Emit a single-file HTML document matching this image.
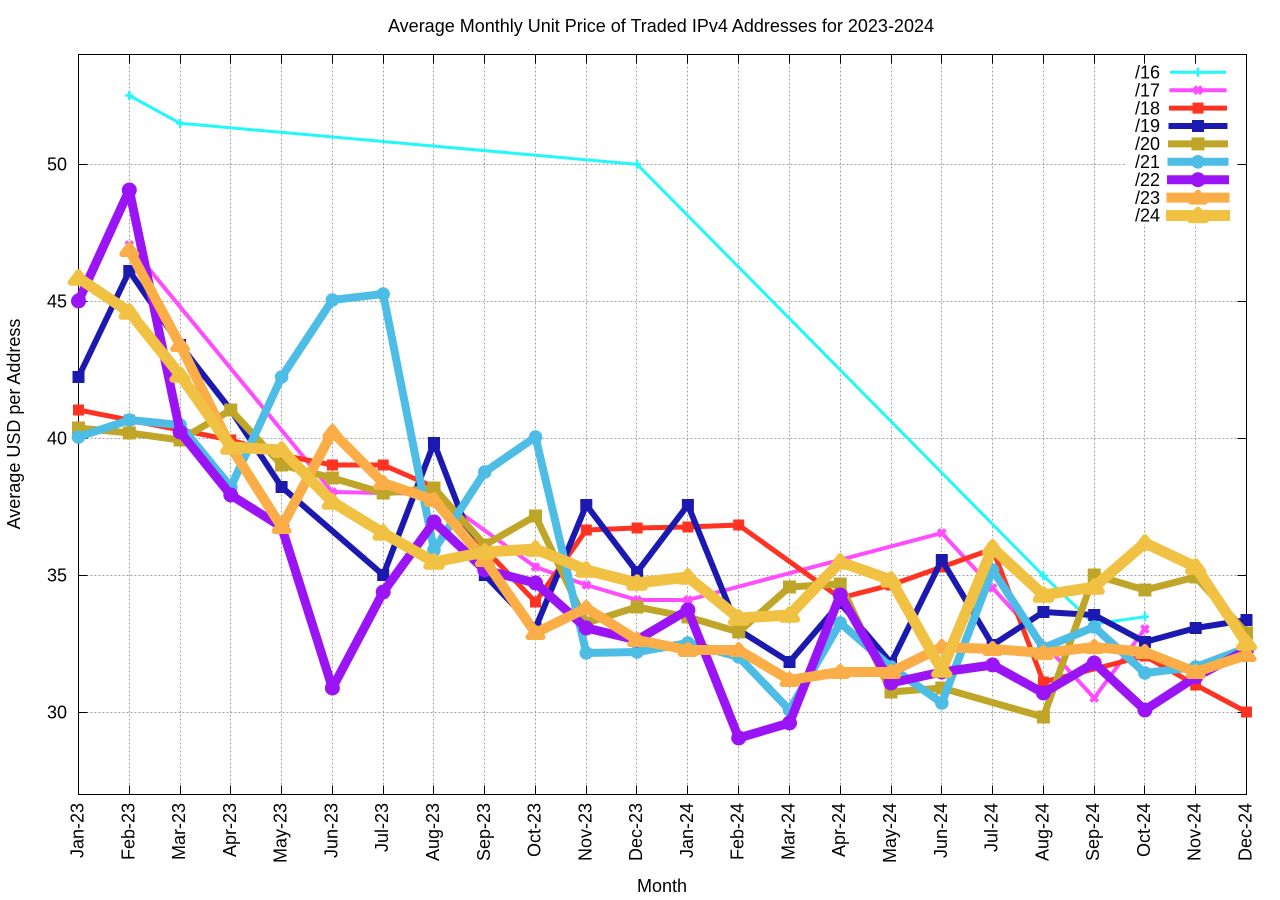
<!DOCTYPE html>
<html><head><meta charset="utf-8"><style>
html,body{margin:0;padding:0;background:#fff;width:1280px;height:900px;overflow:hidden}
svg{display:block}
text{font-family:"Liberation Sans",Arial,sans-serif;font-size:18px;fill:#000}
</style></head><body>
<svg width="1280" height="900" viewBox="0 0 1280 900" xmlns="http://www.w3.org/2000/svg">
<defs>
<marker id="k16" markerUnits="userSpaceOnUse" viewBox="-12 -12 24 24" markerWidth="24" markerHeight="24" refX="0" refY="0" orient="0" overflow="visible"><path d="M-4,0H4M0,-4.5V4.5" stroke="#22f8f8" stroke-width="2.5" fill="none"/></marker>
<marker id="k17" markerUnits="userSpaceOnUse" viewBox="-12 -12 24 24" markerWidth="24" markerHeight="24" refX="0" refY="0" orient="0" overflow="visible"><path d="M-3.5,-3.5L3.5,3.5M-3.5,3.5L3.5,-3.5" stroke="#ff4cff" stroke-width="4" fill="none"/></marker>
<marker id="k18" markerUnits="userSpaceOnUse" viewBox="-12 -12 24 24" markerWidth="24" markerHeight="24" refX="0" refY="0" orient="0" overflow="visible"><rect x="-5.5" y="-5.5" width="11" height="11" fill="#ff3322"/></marker>
<marker id="k19" markerUnits="userSpaceOnUse" viewBox="-12 -12 24 24" markerWidth="24" markerHeight="24" refX="0" refY="0" orient="0" overflow="visible"><rect x="-6" y="-6" width="12" height="12" fill="#1b19af"/></marker>
<marker id="k20" markerUnits="userSpaceOnUse" viewBox="-12 -12 24 24" markerWidth="24" markerHeight="24" refX="0" refY="0" orient="0" overflow="visible"><rect x="-6.5" y="-6.5" width="13" height="13" fill="#bfa628"/></marker>
<marker id="k21" markerUnits="userSpaceOnUse" viewBox="-12 -12 24 24" markerWidth="24" markerHeight="24" refX="0" refY="0" orient="0" overflow="visible"><circle r="6.8" fill="#4dbde6"/></marker>
<marker id="k22" markerUnits="userSpaceOnUse" viewBox="-12 -12 24 24" markerWidth="24" markerHeight="24" refX="0" refY="0" orient="0" overflow="visible"><circle r="7.5" fill="#9a14f6"/></marker>
<marker id="k23" markerUnits="userSpaceOnUse" viewBox="-14 -14 28 28" markerWidth="28" markerHeight="28" refX="0" refY="0" orient="0" overflow="visible"><polygon points="0,-5 -7,4 7,4" fill="#fbad47" stroke="#fbad47" stroke-width="6" stroke-linejoin="round"/></marker>
<marker id="k24" markerUnits="userSpaceOnUse" viewBox="-14 -14 28 28" markerWidth="28" markerHeight="28" refX="0" refY="0" orient="0" overflow="visible"><polygon points="0,-5.5 -7.5,4.5 7.5,4.5" fill="#f0c142" stroke="#f0c142" stroke-width="6.5" stroke-linejoin="round"/></marker>
</defs>

<!-- grid -->
<g stroke="#a0a0a0" stroke-width="1" stroke-dasharray="2,2" fill="none">
<path d="M78.5,164.5H1246.5M78.5,301.5H1246.5M78.5,438.5H1246.5M78.5,575.5H1246.5M78.5,712.5H1246.5"/>
<path d="M129.5,54.5V794.5M180.5,54.5V794.5M230.5,54.5V794.5M281.5,54.5V794.5M332.5,54.5V794.5M383.5,54.5V794.5M433.5,54.5V794.5M484.5,54.5V794.5M535.5,54.5V794.5M586.5,54.5V794.5M636.5,54.5V794.5M687.5,54.5V794.5M738.5,54.5V794.5M789.5,54.5V794.5M840.5,54.5V794.5M891.5,54.5V794.5M941.5,54.5V794.5M992.5,54.5V794.5M1043.5,54.5V794.5M1094.5,54.5V794.5M1144.5,54.5V794.5M1195.5,54.5V794.5"/>
</g>

<!-- border and ticks -->
<g stroke="#000" stroke-width="1" fill="none">
<rect x="78.5" y="54.5" width="1168" height="740"/>
<path d="M78.5,164.5H87.5M78.5,301.5H87.5M78.5,438.5H87.5M78.5,575.5H87.5M78.5,712.5H87.5M1246.5,164.5H1237.5M1246.5,301.5H1237.5M1246.5,438.5H1237.5M1246.5,575.5H1237.5M1246.5,712.5H1237.5"/>
<path d="M129.5,794.5V785.5M180.5,794.5V785.5M230.5,794.5V785.5M281.5,794.5V785.5M332.5,794.5V785.5M383.5,794.5V785.5M433.5,794.5V785.5M484.5,794.5V785.5M535.5,794.5V785.5M586.5,794.5V785.5M636.5,794.5V785.5M687.5,794.5V785.5M738.5,794.5V785.5M789.5,794.5V785.5M840.5,794.5V785.5M891.5,794.5V785.5M941.5,794.5V785.5M992.5,794.5V785.5M1043.5,794.5V785.5M1094.5,794.5V785.5M1144.5,794.5V785.5M1195.5,794.5V785.5"/>
<path d="M129.5,54.5V63.5M180.5,54.5V63.5M230.5,54.5V63.5M281.5,54.5V63.5M332.5,54.5V63.5M383.5,54.5V63.5M433.5,54.5V63.5M484.5,54.5V63.5M535.5,54.5V63.5M586.5,54.5V63.5M636.5,54.5V63.5M687.5,54.5V63.5M738.5,54.5V63.5M789.5,54.5V63.5M840.5,54.5V63.5M891.5,54.5V63.5M941.5,54.5V63.5M992.5,54.5V63.5M1043.5,54.5V63.5M1094.5,54.5V63.5M1144.5,54.5V63.5M1195.5,54.5V63.5"/>
</g>

<!-- y tick labels -->
<g text-anchor="end">
<text x="67" y="170.5">50</text>
<text x="67" y="307.5">45</text>
<text x="67" y="444.5">40</text>
<text x="67" y="581.5">35</text>
<text x="67" y="718.5">30</text>
</g>

<!-- x tick labels -->
<g text-anchor="end">
<text transform="translate(83.5,803) rotate(-90)">Jan-23</text>
<text transform="translate(134.3,803) rotate(-90)">Feb-23</text>
<text transform="translate(185.1,803) rotate(-90)">Mar-23</text>
<text transform="translate(235.8,803) rotate(-90)">Apr-23</text>
<text transform="translate(286.6,803) rotate(-90)">May-23</text>
<text transform="translate(337.4,803) rotate(-90)">Jun-23</text>
<text transform="translate(388.2,803) rotate(-90)">Jul-23</text>
<text transform="translate(439,803) rotate(-90)">Aug-23</text>
<text transform="translate(489.8,803) rotate(-90)">Sep-23</text>
<text transform="translate(540.5,803) rotate(-90)">Oct-23</text>
<text transform="translate(591.3,803) rotate(-90)">Nov-23</text>
<text transform="translate(642.1,803) rotate(-90)">Dec-23</text>
<text transform="translate(692.9,803) rotate(-90)">Jan-24</text>
<text transform="translate(743.7,803) rotate(-90)">Feb-24</text>
<text transform="translate(794.5,803) rotate(-90)">Mar-24</text>
<text transform="translate(845.2,803) rotate(-90)">Apr-24</text>
<text transform="translate(896,803) rotate(-90)">May-24</text>
<text transform="translate(946.8,803) rotate(-90)">Jun-24</text>
<text transform="translate(997.6,803) rotate(-90)">Jul-24</text>
<text transform="translate(1048.4,803) rotate(-90)">Aug-24</text>
<text transform="translate(1099.2,803) rotate(-90)">Sep-24</text>
<text transform="translate(1149.9,803) rotate(-90)">Oct-24</text>
<text transform="translate(1200.7,803) rotate(-90)">Nov-24</text>
<text transform="translate(1251.5,803) rotate(-90)">Dec-24</text>
</g>

<!-- titles -->
<text x="661" y="32" text-anchor="middle">Average Monthly Unit Price of Traded IPv4 Addresses for 2023-2024</text>
<text x="662" y="892" text-anchor="middle">Month</text>
<text transform="translate(20,424) rotate(-90)" text-anchor="middle">Average USD per Address</text>

<!-- data series -->
<g fill="none" stroke-linejoin="round" stroke-linecap="butt">
<polyline stroke="#22f8f8" stroke-width="3" marker-start="url(#k16)" marker-mid="url(#k16)" marker-end="url(#k16)" points="129.3,95.5 180.1,123.3 637.1,164.3 1043.4,575.7 1094.2,624 1144.9,616.7"/>
<polyline stroke="#ff4cff" stroke-width="4" marker-start="url(#k17)" marker-mid="url(#k17)" marker-end="url(#k17)" points="129.3,245 332.4,492 383.2,493 434,494 535.5,567 586.3,585 637.1,600 687.9,600 941.8,533 992.6,588 1094.2,698 1144.9,629"/>
<polyline stroke="#ff3322" stroke-width="5" marker-start="url(#k18)" marker-mid="url(#k18)" marker-end="url(#k18)" points="78.5,410 129.3,420 180.1,430 230.8,440 281.6,455 332.4,465 383.2,465 434,487 484.8,549 535.5,602 586.3,530 637.1,528 687.9,527 738.7,525 840.2,598 891,585 941.8,567 992.6,549 1043.4,682 1144.9,656 1195.7,685 1246.5,712"/>
<polyline stroke="#1b19af" stroke-width="6" marker-start="url(#k19)" marker-mid="url(#k19)" marker-end="url(#k19)" points="78.5,377 129.3,271 180.1,345 230.8,410 281.6,487 383.2,575 434,443 484.8,575 535.5,628 586.3,505 637.1,572 687.9,505 738.7,630 789.5,662 840.2,603 891,663 941.8,560 992.6,645 1043.4,612 1094.2,615 1144.9,642 1195.7,628 1246.5,620"/>
<polyline stroke="#bfa628" stroke-width="7" marker-start="url(#k20)" marker-mid="url(#k20)" marker-end="url(#k20)" points="78.5,428 129.3,433 180.1,440 230.8,410 281.6,465 332.4,478 383.2,493 434,488 484.8,545 535.5,516 586.3,623 637.1,607 687.9,617 738.7,632 789.5,587 840.2,584 891,692 941.8,688 1043.4,717 1094.2,575 1144.9,590 1195.7,577 1246.5,633"/>
<polyline stroke="#4dbde6" stroke-width="8" marker-start="url(#k21)" marker-mid="url(#k21)" marker-end="url(#k21)" points="78.5,437 129.3,420 180.1,425 230.8,487 281.6,377 332.4,300 383.2,294 434,550 484.8,472 535.5,437 586.3,653 637.1,652 687.9,643 738.7,657 789.5,710 840.2,623 891,667 941.8,703 992.6,570 1043.4,648 1094.2,627 1144.9,673 1195.7,667 1246.5,648"/>
<polyline stroke="#9a14f6" stroke-width="9" marker-start="url(#k22)" marker-mid="url(#k22)" marker-end="url(#k22)" points="78.5,301 129.3,190 180.1,432 230.8,495 281.6,527 332.4,688 383.2,592 434,522 484.8,570 535.5,583 586.3,628 637.1,640 687.9,610 738.7,738 789.5,723 840.2,595 891,683 941.8,672 992.6,665 1043.4,693 1094.2,663 1144.9,710 1195.7,677 1246.5,650"/>
<polyline stroke="#fbad47" stroke-width="10" marker-start="url(#k23)" marker-mid="url(#k23)" marker-end="url(#k23)" points="129.3,250 180.1,345 230.8,447 281.6,527 332.4,432 383.2,483 434,500 484.8,560 535.5,633 586.3,608 637.1,640 687.9,650 738.7,650 789.5,680 840.2,672 891,672 941.8,647 992.6,649 1043.4,653 1094.2,647 1144.9,652 1195.7,672 1246.5,655"/>
<polyline stroke="#f0c142" stroke-width="11" marker-start="url(#k24)" marker-mid="url(#k24)" marker-end="url(#k24)" points="78.5,278 129.3,312 180.1,375 230.8,447 281.6,450 332.4,502 383.2,533 434,562 484.8,552 535.5,549 586.3,570 637.1,583 687.9,577 738.7,618 789.5,615 840.2,562 891,580 941.8,670 992.6,548 1043.4,595 1094.2,587 1144.9,543 1195.7,567 1246.5,643"/>
</g>

<!-- legend -->
<rect x="1126" y="64" width="110" height="160" fill="#fff"/>
<g text-anchor="end">
<text x="1160" y="78.5">/16</text>
<text x="1160" y="96.4">/17</text>
<text x="1160" y="114.3">/18</text>
<text x="1160" y="132.2">/19</text>
<text x="1160" y="150.1">/20</text>
<text x="1160" y="168">/21</text>
<text x="1160" y="185.9">/22</text>
<text x="1160" y="203.8">/23</text>
<text x="1160" y="221.7">/24</text>
</g>
<g fill="none" stroke-linecap="square">
<polyline stroke="#22f8f8" stroke-width="3" marker-mid="url(#k16)" points="1171.5,72.3 1198,72.3 1224.5,72.3"/>
<polyline stroke="#ff4cff" stroke-width="4" marker-mid="url(#k17)" points="1171.5,90.2 1198,90.2 1224.5,90.2"/>
<polyline stroke="#ff3322" stroke-width="5" marker-mid="url(#k18)" points="1171.5,108.1 1198,108.1 1224.5,108.1"/>
<polyline stroke="#1b19af" stroke-width="6" marker-mid="url(#k19)" points="1171.5,126 1198,126 1224.5,126"/>
<polyline stroke="#bfa628" stroke-width="7" marker-mid="url(#k20)" points="1171.5,143.9 1198,143.9 1224.5,143.9"/>
<polyline stroke="#4dbde6" stroke-width="8" marker-mid="url(#k21)" points="1171.5,161.8 1198,161.8 1224.5,161.8"/>
<polyline stroke="#9a14f6" stroke-width="9" marker-mid="url(#k22)" points="1171.5,179.7 1198,179.7 1224.5,179.7"/>
<polyline stroke="#fbad47" stroke-width="10" marker-mid="url(#k23)" points="1171.5,197.6 1198,197.6 1224.5,197.6"/>
<polyline stroke="#f0c142" stroke-width="11" marker-mid="url(#k24)" points="1171.5,215.5 1198,215.5 1224.5,215.5"/>
</g>
</svg>
</body></html>
